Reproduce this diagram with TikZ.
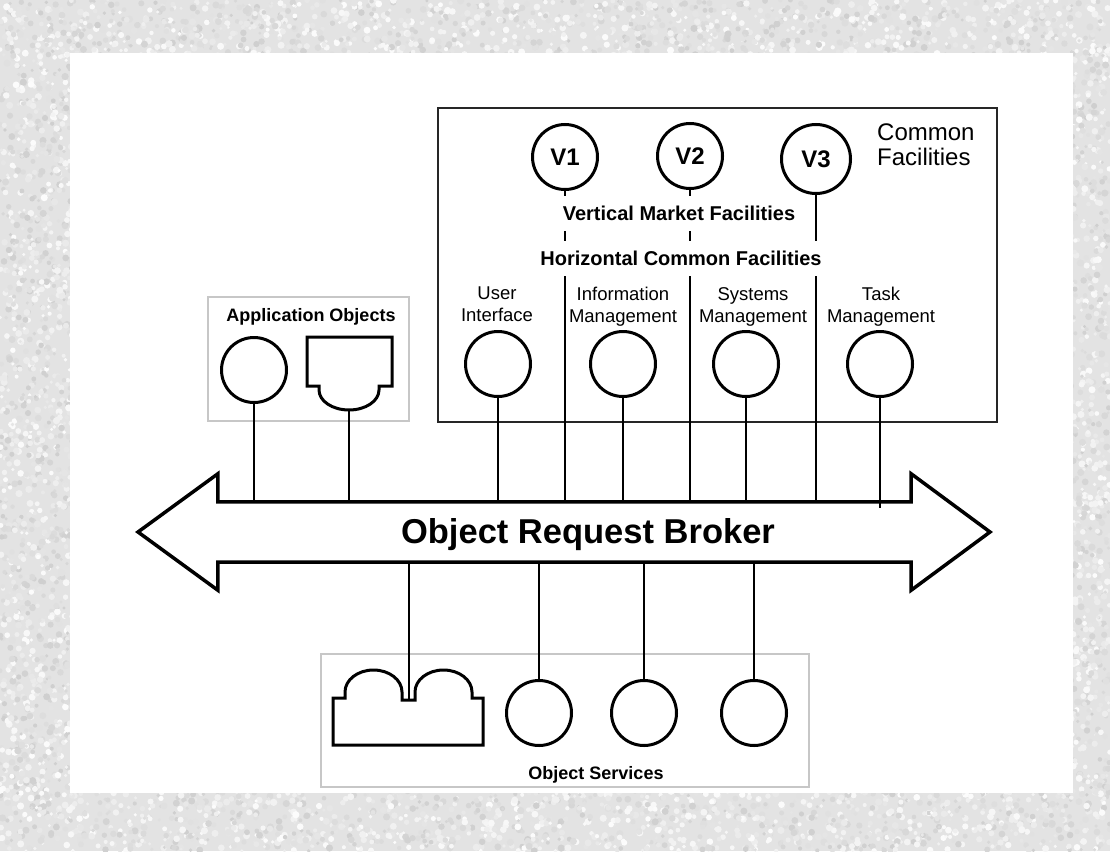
\documentclass[tikz,border=0pt]{standalone}
\usepackage{fontspec}
\setmainfont{Liberation Sans}
\usetikzlibrary{calc}

\begin{document}
\begin{tikzpicture}[x=1pt,y=1pt,
  ring/.style={circle,draw,line width=3pt,inner sep=0pt,minimum size=65pt},
  vring/.style={ring,font=\bfseries\fontsize{24}{28}\selectfont},
  wire/.style={line width=1.7pt},
  shapeline/.style={line width=3pt,line join=miter},
  cfframe/.style={draw=black!85,line width=2pt},
  grp/.style={draw=black!22,line width=2.5pt},
  flabel/.style={font=\fontsize{18.5}{22}\selectfont,align=center,inner sep=0pt,anchor=north},
  band/.style={font=\bfseries\fontsize{20}{24}\selectfont,fill=white,inner xsep=3pt,inner ysep=0pt,minimum height=35pt},
  grptitle/.style={font=\bfseries\fontsize{18}{22}\selectfont,anchor=base},
  speck/.style={fill=black!#1},
]
\useasboundingbox (0,0) rectangle (1110,-851);
\clip (0,0) rectangle (1110,-851);

% mottled stone frame
\fill[black!11] (0,0) rectangle (1110,-851);
\pgfmathsetseed{42}
\foreach \n in {1,...,1400}{%
  \pgfmathsetmacro{\px}{rnd*1110}\pgfmathsetmacro{\py}{-rnd*56}%
  \pgfmathsetmacro{\g}{1+rnd*18}\pgfmathsetmacro{\r}{1.6+rnd*2}%
  \fill[speck=\g] (\px,\py) circle (\r);}
\foreach \n in {1,...,1500}{%
  \pgfmathsetmacro{\px}{rnd*1110}\pgfmathsetmacro{\py}{-790-rnd*61}%
  \pgfmathsetmacro{\g}{1+rnd*18}\pgfmathsetmacro{\r}{1.6+rnd*2}%
  \fill[speck=\g] (\px,\py) circle (\r);}
\foreach \n in {1,...,1250}{%
  \pgfmathsetmacro{\px}{rnd*72}\pgfmathsetmacro{\py}{-50-rnd*745}%
  \pgfmathsetmacro{\g}{1+rnd*18}\pgfmathsetmacro{\r}{1.6+rnd*2}%
  \fill[speck=\g] (\px,\py) circle (\r);}
\foreach \n in {1,...,680}{%
  \pgfmathsetmacro{\px}{1071+rnd*39}\pgfmathsetmacro{\py}{-50-rnd*745}%
  \pgfmathsetmacro{\g}{1+rnd*18}\pgfmathsetmacro{\r}{1.6+rnd*2}%
  \fill[speck=\g] (\px,\py) circle (\r);}
\fill[white] (70,-53) rectangle (1073,-793);

% Common Facilities frame
\draw[cfframe] (438,-108) rectangle (997,-422);
\node[font=\fontsize{24}{25}\selectfont,align=left,inner sep=0pt,anchor=north west] (cftitle) at (877,-124) {Common\\Facilities};

% Object Request Broker (double-headed band)
\node[inner sep=0pt,minimum width=693pt,minimum height=60pt] (orb) at (564.5,-532) {};
\coordinate (tipL) at (138,-532);
\coordinate (tipR) at (990,-532);
\draw[line width=3.5pt,line join=miter]
  (orb.north west) -- (orb.north east) -- ++(0,28) -- (tipR)
  -- ($(orb.south east)+(0,-28)$) -- (orb.south east) -- (orb.south west)
  -- ++(0,-28) -- (tipL) -- ($(orb.north west)+(0,28)$) -- cycle;
\node[font=\bfseries\fontsize{34.5}{40}\selectfont,anchor=base] (orbtext) at (588,-543) {Object Request Broker};

% vertical market facilities
\node[vring] (v1) at (565,-157) {V1};
\node[vring] (v2) at (690,-156) {V2};
\node[vring,minimum size=69pt] (v3) at (816,-159) {V3};

% horizontal common facilities
\node[ring] (ui)   at (498,-364) {};
\node[ring] (info) at (623,-364) {};
\node[ring] (sys)  at (746,-364) {};
\node[ring] (task) at (880,-364) {};
\node[flabel] (uil)   at (497,-287) {User\\Interface};
\node[flabel] (infol) at (623,-287) {Information\\Management};
\node[flabel] (sysl)  at (753,-287) {Systems\\Management};
\node[flabel] (taskl) at (881,-287) {Task\\Management};

\foreach \c in {v1,v2,v3,ui,info,sys}
  \draw[wire] (\c.south) -- (\c.south |- orb.north);
\draw[wire] (task.south) -- ($(task.south |- orb.north)+(0,-6)$);

\node[band] (vmf) at (679,-213) {Vertical Market Facilities};
\node[band] (hcf) at (681,-258) {Horizontal Common Facilities};

% application objects
\draw[grp] (208,-297) rectangle (409,-421);
\node[grptitle] (apptitle) at (311,-321.5) {Application Objects};
\node[ring] (appc) at (254,-370) {};
\draw[shapeline] (307,-337) -- (392,-337) -- (392,-386) -- (379,-386) -- (379,-390)
  arc[start angle=0,end angle=-180,x radius=30,y radius=20]
  -- (319,-386) -- (307,-386) -- cycle;
\coordinate (appd) at (349,-411);
\draw[wire] (appc.south) -- (appc.south |- orb.north);
\draw[wire] (appd) -- (appd |- orb.north);

% object services
\draw[grp] (321,-654) rectangle (809,-787);
\node[grptitle] (svctitle) at (596,-779) {Object Services};
\draw[shapeline] (333,-745) -- (333,-698) -- (345,-698) -- (345,-692)
  arc[start angle=180,end angle=0,x radius=28.5,y radius=22]
  -- (402,-700) -- (415,-700) -- (415,-692)
  arc[start angle=180,end angle=0,x radius=28.5,y radius=22]
  -- (472,-698) -- (483,-698) -- (483,-745) -- cycle;
\coordinate (notch) at (409,-700);
\node[ring] (s1) at (539,-713) {};
\node[ring] (s2) at (644,-713) {};
\node[ring] (s3) at (754,-713) {};
\draw[wire] (notch) -- (notch |- orb.south);
\foreach \c in {s1,s2,s3}
  \draw[wire] (\c.north) -- (\c.north |- orb.south);
\end{tikzpicture}
\end{document}
